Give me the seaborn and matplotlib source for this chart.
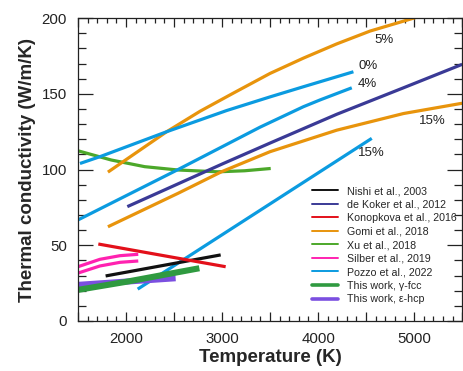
import pandas as pd
import matplotlib
matplotlib.use("Agg")
import matplotlib.pyplot as plt
import seaborn as sns
from matplotlib.lines import Line2D
from matplotlib.ticker import MultipleLocator, FuncFormatter

# Dados (T em K, condutividade em W/m/K)
nishi_T = [1788, 2986]
nishi_k = [29.7, 43.6]

dekoker_T = [2014, 3014, 3500, 4194, 4889, 5500]
dekoker_k = [75.5, 104, 117.5, 136.5, 154, 169.5]

konopkova_T = [1712, 3038]
konopkova_k = [50.8, 35.8]

gomi5_T = [1812, 2000, 2424, 2771, 3118, 3500, 3847, 4194, 4542, 5010]
gomi5_k = [98.3, 106.5, 125, 138.5, 150.5, 163.5, 173.6, 183, 191.5, 200.3]
gomi15_T = [1812, 2542, 2993, 3500, 4194, 4889, 5500]
gomi15_k = [62.2, 84.3, 98.5, 111.8, 126, 137, 143.8]

xu_T = [1500, 1847, 2195, 2542, 2958, 3236, 3507]
xu_k = [112.4, 106.3, 101.9, 99.7, 98.5, 99.2, 100.7]

silber_a_T = [1500, 1729, 1938, 2128]
silber_a_k = [35.8, 40.7, 43.1, 44.0]
silber_b_T = [1500, 1729, 1938, 2128]
silber_b_k = [31.6, 36.3, 38.7, 39.6]

pozzo0_T = [1521, 1729, 2424, 3049, 3500, 3847, 4368]
pozzo0_k = [104, 108.5, 125, 139, 148, 154.7, 164.6]
pozzo4_T = [1500, 2542, 3396, 3847, 4021, 4351]
pozzo4_k = [66.7, 100, 128, 141.5, 146, 154]
pozzo15_T = [2122, 4559]
pozzo15_k = [21, 120.6]

fcc_T = [1500, 2007, 2764]
fcc_k = [20.5, 25.9, 34.8]
hcp_T = [1500, 2517]
hcp_k = [23.8, 28.2]

rotulos = ['Nishi et al., 2003', 'de Koker et al., 2012', 'Konopkova et al., 2016',
           'Gomi et al., 2018', 'Xu et al., 2018', 'Silber et al., 2019',
           'Pozzo et al., 2022', 'This work, \u03b3-fcc', 'This work, \u03b5-hcp']
cores = ['#111111', '#3a3a96', '#e3101a', '#e8940c', '#4ca82a', '#ff22b0',
         '#0b9be0', '#2f9a40', '#7b4fe0']

# Anotações (x, y, texto)
anot_T = [4687, 4516, 4510, 5193, 4557]
anot_k = [185.5, 168.3, 156.4, 132, 111.2]
anot_txt = ['5%', '0%', '4%', '15%', '15%']

sns.set_style('ticks')
plt.rcParams['font.family'] = ['Liberation Sans', 'DejaVu Sans']

fig, ax = plt.subplots(figsize=(4.64, 3.71), dpi=100)
fig.subplots_adjust(left=0.168, right=0.996, bottom=0.135, top=0.951)

fino = 2.3
grosso = 4.4
series = [
    (pozzo15_T, pozzo15_k, 6, fino),
    (nishi_T, nishi_k, 0, fino),
    (konopkova_T, konopkova_k, 2, fino),
    (silber_a_T, silber_a_k, 5, fino),
    (silber_b_T, silber_b_k, 5, fino),
    (hcp_T, hcp_k, 8, grosso),
    (fcc_T, fcc_k, 7, grosso),
    (xu_T, xu_k, 4, fino),
    (gomi15_T, gomi15_k, 3, fino),
    (dekoker_T, dekoker_k, 1, fino),
    (pozzo4_T, pozzo4_k, 6, fino),
    (gomi5_T, gomi5_k, 3, fino),
    (pozzo0_T, pozzo0_k, 6, fino),
]
for T, k, i, lw in series:
    df = pd.DataFrame({'T': T, 'k': k})
    sns.lineplot(data=df, x='T', y='k', ax=ax, color=cores[i], lw=lw,
                 sort=False, estimator=None, legend=False,
                 solid_joinstyle='round', solid_capstyle='butt')

for t, k, s in zip(anot_T, anot_k, anot_txt):
    ax.text(t, k, s, ha='center', va='center', fontsize=9.5, color='#222222')

ax.set_xlim(1500, 5500)
ax.set_ylim(0, 200)
ax.xaxis.set_major_locator(MultipleLocator(500))
ax.xaxis.set_minor_locator(MultipleLocator(100))
ax.xaxis.set_major_formatter(FuncFormatter(lambda v, p: f'{int(v)}' if v % 1000 == 0 else ''))
ax.yaxis.set_major_locator(MultipleLocator(50))
ax.yaxis.set_minor_locator(MultipleLocator(10))

ax.tick_params(axis='both', which='both', direction='in', top=True, right=True,
               colors='#222222', labelsize=10.8, pad=8, width=0.9)
ax.tick_params(axis='x', which='major', length=6.5)
ax.tick_params(axis='x', which='minor', length=3.6)
ax.tick_params(axis='y', which='major', length=11)
ax.tick_params(axis='y', which='minor', length=5.5)
for s in ax.spines.values():
    s.set_linewidth(0.9)
    s.set_color('#222222')

ax.set_xlabel('Temperature (K)', fontsize=13.5, fontweight='bold', labelpad=2)
ax.set_ylabel('Thermal conductivity (W/m/K)', fontsize=13.5, fontweight='bold', labelpad=4)

handles = [Line2D([0], [0], color=c, lw=(2.6 if i >= 7 else 1.4))
           for i, c in enumerate(cores)]
ax.legend(handles, rotulos, loc='upper left', bbox_to_anchor=(0.609, 0.4455),
          frameon=False, fontsize=7.7, borderpad=0, borderaxespad=0,
          handlelength=2.4, handletextpad=0.85, labelspacing=0.33)

plt.savefig('out.png', dpi=100)
